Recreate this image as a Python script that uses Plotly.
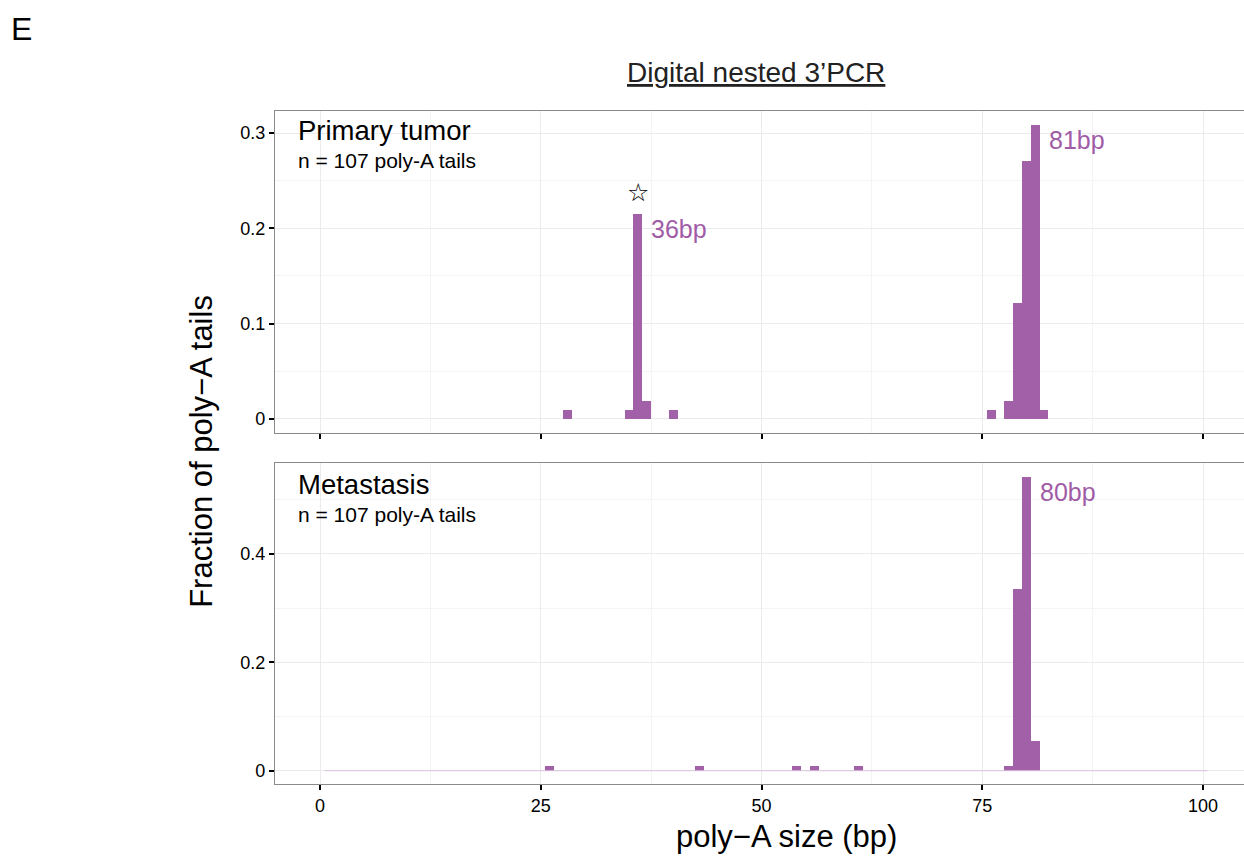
import plotly.graph_objects as go

# Poly-A tail length counts (bp -> number of tails) for each sample
sizes_primary = [28, 35, 36, 37, 40, 76, 78, 79, 80, 81, 82]
counts_primary = [1, 1, 23, 2, 1, 1, 2, 13, 29, 33, 1]

sizes_met = [26, 43, 54, 56, 61, 78, 79, 80, 81]
counts_met = [1, 1, 1, 1, 1, 1, 36, 58, 6]

n_tails = 107
panel_names = ["Primary tumor", "Metastasis"]
x_ticks = [0, 25, 50, 75, 100]
y_ticks_top = [0, 0.1, 0.2, 0.3]
y_ticks_bottom = [0, 0.2, 0.4]

W, H = 1244, 858
FONT = "Liberation Sans, Arial, Helvetica, sans-serif"
BAR = "#A160A7"
TXT_PURPLE = "#A05CA6"
GRID = "#EBEBEB"
GRID_MINOR = "#F4F4F4"
BORDER = "#8A8A8A"

# plotting area in pixels
L, R, T, B = 275, W, 111, 784.3
top_dom = [(B - 433) / (B - T), 1.0]
bot_dom = [0.0, (B - 462.7) / (B - T)]


def px(x):
    return (x - L) / (R - L)


def py(y):
    return (B - y) / (B - T)


frac_p = [c / n_tails for c in counts_primary]
frac_m = [c / n_tails for c in counts_met]

fig = go.Figure()
fig.add_trace(go.Bar(x=sizes_primary, y=frac_p, width=1, marker=dict(color=BAR, line=dict(width=0)),
                     xaxis="x", yaxis="y", showlegend=False))
fig.add_trace(go.Bar(x=sizes_met, y=frac_m, width=1, marker=dict(color=BAR, line=dict(width=0)),
                     xaxis="x2", yaxis="y2", showlegend=False))
# empty bins of the metastasis histogram show as a faint baseline
fig.add_trace(go.Scatter(x=[0.5, 100.5], y=[0, 0], mode="lines",
                         line=dict(color="#D9C3DB", width=1), xaxis="x2", yaxis="y2",
                         showlegend=False, hoverinfo="skip"))

x_range = [-(320 - L) / 8.83, (W - 320) / 8.83]

xcommon = dict(range=x_range, tickvals=x_ticks, ticks="outside", ticklen=5, tickwidth=2,
               tickcolor="black", showline=True, linecolor=BORDER, linewidth=1.2, mirror=True,
               showgrid=True, gridcolor=GRID, gridwidth=1, zeroline=False,
               minor=dict(dtick=12.5, tick0=12.5, showgrid=True, gridcolor=GRID_MINOR, gridwidth=1, ticks=""),
               tickfont=dict(family=FONT, size=18, color="black"))
ycommon = dict(ticks="outside", ticklen=5, tickwidth=2, tickcolor="black", showline=True,
               linecolor=BORDER, linewidth=1.2, showgrid=True, gridcolor=GRID, gridwidth=1,
               zeroline=False, tickfont=dict(family=FONT, size=18, color="black"))

fig.update_layout(
    width=W, height=H, margin=dict(l=L, r=0, t=T, b=H - B),
    paper_bgcolor="white", plot_bgcolor="white", bargap=0,
    xaxis=dict(domain=[0, 1], anchor="y", showticklabels=False, **xcommon),
    xaxis2=dict(domain=[0, 1], anchor="y2", showticklabels=True, **xcommon),
    yaxis=dict(domain=top_dom, anchor="x", range=[-0.0147, 0.3232], tickvals=y_ticks_top,
               ticktext=["0", "0.1", "0.2", "0.3"],
               minor=dict(dtick=0.05, tick0=0.05, showgrid=True, gridcolor=GRID_MINOR, ticks=""),
               **ycommon),
    yaxis2=dict(domain=bot_dom, anchor="x2", range=[-0.0245, 0.5683], tickvals=y_ticks_bottom,
                ticktext=["0", "0.2", "0.4"],
                minor=dict(dtick=0.1, tick0=0.1, showgrid=True, gridcolor=GRID_MINOR, ticks=""),
                **ycommon),
)

ann = []
# figure letter and title
ann.append(dict(text="E", x=px(9), y=py(29), xref="paper", yref="paper", xanchor="left",
                yanchor="middle", showarrow=False, font=dict(family=FONT, size=32, color="black")))
ann.append(dict(text="<u>Digital nested 3’PCR</u>", x=px(756), y=py(72), xref="paper", yref="paper",
                xanchor="center", yanchor="middle", showarrow=False,
                font=dict(family=FONT, size=28, color="#222222")))
# axis titles
ann.append(dict(text="Fraction of poly−A tails", x=px(202), y=py(452), xref="paper", yref="paper",
                xanchor="center", yanchor="middle", textangle=-90, showarrow=False,
                font=dict(family=FONT, size=31, color="black")))
ann.append(dict(text="poly−A size (bp)", x=px(786), y=py(837), xref="paper", yref="paper",
                xanchor="center", yanchor="middle", showarrow=False,
                font=dict(family=FONT, size=31, color="black")))

# panel labels
for name, yax, y_name, y_n in [(panel_names[0], "y", 131, 161), (panel_names[1], "y2", 485, 515)]:
    ann.append(dict(text=name, x=px(296), y=py(y_name), xref="paper", yref="paper", xanchor="left",
                    yanchor="middle", showarrow=False, font=dict(family=FONT, size=27.5, color="black")))
    ann.append(dict(text=f"n = {n_tails} poly-A tails", x=px(296), y=py(y_n), xref="paper", yref="paper",
                    xanchor="left", yanchor="middle", showarrow=False,
                    font=dict(family=FONT, size=21, color="black")))


# mode labels next to the tallest bars
def peak_label(sizes, fracs, xa, ya, pick):
    i = pick
    return dict(text=f"{sizes[i]}bp", x=sizes[i] + 0.5, y=fracs[i], xref=xa, yref=ya,
                xanchor="left", yanchor="middle", xshift=7, yshift=-15, showarrow=False,
                font=dict(family=FONT, size=25, color=TXT_PURPLE))


i36 = sizes_primary.index(36)
ann.append(peak_label(sizes_primary, frac_p, "x", "y", i36))
ann.append(peak_label(sizes_primary, frac_p, "x", "y", frac_p.index(max(frac_p))))
ann.append(peak_label(sizes_met, frac_m, "x2", "y2", frac_m.index(max(frac_m))))
# star above the 36 bp peak
ann.append(dict(text="☆", x=36, y=frac_p[i36], xref="x", yref="y", xanchor="center",
                yanchor="middle", yshift=22, showarrow=False,
                font=dict(family="DejaVu Sans", size=25, color="black")))

fig.update_layout(annotations=ann)
fig.write_html("out.html")
